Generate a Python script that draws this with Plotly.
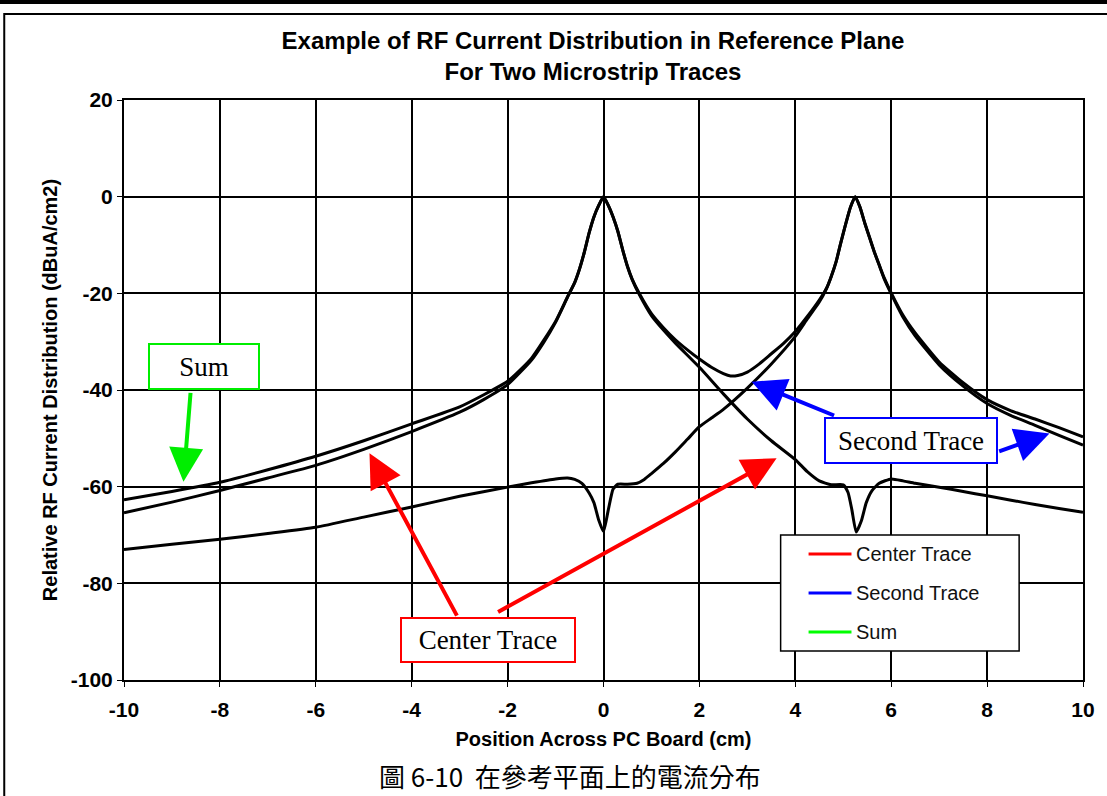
"""RF current distribution in the reference plane for two microstrip traces."""

import plotly.graph_objects as go

# --- data ----------------------------------------------------------------
CENTER_X = [-10, -9, -8, -7, -6, -5, -4, -3, -2.5, -2, -1.5, -1.25, -1, -0.75,
            -0.6, -0.5, -0.4, -0.3, -0.2, -0.1, 0, 0.1, 0.2, 0.3, 0.4, 0.5, 0.6,
            0.75, 1, 1.25, 1.5, 2, 2.5, 3, 3.5, 4, 4.25, 4.5, 4.75, 5, 5.1,
            5.18, 5.27, 5.38, 5.48, 5.6, 5.75, 6, 6.25, 6.5, 7, 7.5, 8, 8.5, 9,
            9.5, 10]
CENTER_DB = [-65.4, -63.2, -60.8, -58.2, -55.6, -52.3, -48.6, -44.6, -42.0,
             -38.9, -33.8, -30.2, -26.0, -20.8, -17.8, -15.0, -11.5, -7.5, -4.2,
             -1.8, 0, -1.8, -4.2, -7.2, -11.0, -14.5, -17.2, -20.3, -24.6,
             -27.6, -30.3, -35.3, -40.8, -46.0, -50.5, -54.4, -56.9, -58.8,
             -59.6, -59.6, -61.2, -64.8, -69.4, -67.0, -63.3, -60.8, -59.3,
             -58.4, -58.8, -59.3, -60.1, -61.0, -61.9, -62.8, -63.7, -64.5,
             -65.3]

SECOND_X = [-10, -9, -8, -7, -6, -5, -4, -3, -2, -1.5, -1, -0.75, -0.6, -0.45,
            -0.3, -0.2, -0.1, 0, 0.1, 0.2, 0.3, 0.5, 0.7, 0.85, 1, 1.25, 1.5,
            1.75, 2, 2.25, 2.5, 3, 3.5, 4, 4.25, 4.5, 4.65, 4.75, 4.85, 4.95,
            5.05, 5.15, 5.25, 5.35, 5.45, 5.55, 5.65, 5.75, 5.85, 6, 6.25, 6.5,
            7, 7.5, 8, 8.5, 9, 9.5, 10]
SECOND_DB = [-73.0, -71.9, -70.9, -69.7, -68.4, -66.3, -64.2, -62.0, -60.1,
             -59.2, -58.4, -58.2, -58.5, -59.3, -61.3, -63.3, -66.9, -69.3,
             -64.8, -60.5, -59.5, -59.5, -59.3, -58.5, -57.3, -55.2, -52.8,
             -50.2, -47.6, -45.8, -44.0, -39.6, -34.6, -28.9, -25.3, -21.8,
             -19.0, -16.5, -13.5, -9.5, -5.7, -2.2, 0, -2.2, -5.5, -8.5, -11.5,
             -14.2, -16.9, -20.1, -25.0, -28.8, -34.8, -39.2, -42.8, -45.3,
             -47.3, -49.4, -51.4]

SUM_X = [-10, -9, -8, -7, -6, -5, -4, -3, -2, -1.5, -1, -0.75, -0.6, -0.5,
         -0.4, -0.3, -0.2, -0.1, 0, 0.1, 0.2, 0.3, 0.4, 0.5, 0.6, 0.75, 1, 1.25,
         1.5, 1.75, 2, 2.25, 2.5, 2.65, 2.8, 3, 3.25, 3.5, 3.75, 4, 4.25, 4.5,
         4.65, 4.75, 4.85, 4.95, 5.05, 5.15, 5.25, 5.35, 5.45, 5.55, 5.65,
         5.75, 5.85, 6, 6.25, 6.5, 7, 7.5, 8, 8.5, 9, 9.5, 10]
SUM_DB = [-62.7, -61.0, -59.1, -56.5, -53.7, -50.5, -47.0, -43.5, -38.2,
          -33.4, -25.8, -20.7, -17.7, -14.9, -11.5, -7.5, -4.2, -1.8, 0, -1.8,
          -4.2, -7.2, -11.0, -14.4, -17.1, -20.1, -24.2, -27.1, -29.6, -31.7,
          -33.6, -35.3, -36.6, -37.1, -37.0, -36.3, -34.6, -32.5, -30.4, -27.9,
          -24.8, -21.4, -19.0, -16.5, -13.5, -9.5, -5.7, -2.2, 0, -2.2, -5.5,
          -8.5, -11.5, -14.1, -16.7, -19.9, -24.6, -28.2, -34.2, -38.5, -42.0,
          -44.3, -46.0, -47.8, -49.7]

SERIES = ["Center Trace", "Second Trace", "Sum"]
SERIES_COLORS = ["#ff0000", "#0000ff", "#00ff00"]

X_TICKS = [-10, -8, -6, -4, -2, 0, 2, 4, 6, 8, 10]
X_LABELS = ["-10", "-8", "-6", "-4", "-2", "0", "2", "4", "6", "8", "10"]
Y_TICKS = [-100, -80, -60, -40, -20, 0, 20]
Y_LABELS = ["-100", "-80", "-60", "-40", "-20", "0", "20"]

# --- page geometry (pixels) ----------------------------------------------
W, H = 1107, 796
PLOT_L, PLOT_R, PLOT_T, PLOT_B = 124, 1085, 100, 680
SANS = "Liberation Sans, Arial, sans-serif"
SERIF = "Liberation Serif, Times New Roman, serif"


def px(x):
    """Pixel x -> paper x."""
    return (x - PLOT_L) / (PLOT_R - PLOT_L)


def py(y):
    """Pixel y -> paper y."""
    return (PLOT_B - y) / (PLOT_B - PLOT_T)


fig = go.Figure()

for xs, ys, name in [(CENTER_X, CENTER_DB, SERIES[0]),
                     (SECOND_X, SECOND_DB, SERIES[1]),
                     (SUM_X, SUM_DB, SERIES[2])]:
    fig.add_trace(go.Scatter(
        x=xs, y=ys, name=name, mode="lines",
        line=dict(color="black", width=3, shape="spline", smoothing=0.5),
        showlegend=False,
    ))

shapes = []
annotations = []

# page frame from the scanned book page
shapes.append(dict(type="line", xref="paper", yref="paper",
                   x0=px(-5), x1=px(W + 5), y0=py(2), y1=py(2),
                   line=dict(color="black", width=4)))
shapes.append(dict(type="rect", xref="paper", yref="paper",
                   x0=px(4), x1=px(W + 10), y0=py(14), y1=py(H + 10),
                   line=dict(color="black", width=2)))

# hand-drawn legend box
shapes.append(dict(type="rect", xref="paper", yref="paper",
                   x0=px(782), x1=px(1021), y0=py(535), y1=py(651),
                   fillcolor="white", line=dict(color="black", width=1.5)))
for i, (name, color) in enumerate(zip(SERIES, SERIES_COLORS)):
    ly = 554 + i * 39
    shapes.append(dict(type="line", xref="paper", yref="paper",
                       x0=px(810), x1=px(853), y0=py(ly), y1=py(ly),
                       line=dict(color=color, width=3)))
    annotations.append(dict(text=name, xref="paper", yref="paper",
                            x=px(856), y=py(ly), xanchor="left",
                            yanchor="middle", showarrow=False,
                            font=dict(family=SANS, size=20, color="#111111")))

# callout boxes
callouts = [
    ("Sum", "#00ee00", 204, 366, 112, 47),
    ("Second Trace", "#0000ff", 913, 440, 174, 47),
    ("Center Trace", "#ff0000", 489, 640, 176, 46),
]
for text, color, cx, cy, bw, bh in callouts:
    annotations.append(dict(text=text, xref="paper", yref="paper",
                            x=px(cx), y=py(cy), xanchor="center",
                            yanchor="middle", showarrow=False,
                            width=bw - 4, height=bh - 4, borderpad=0,
                            bordercolor=color, borderwidth=2, bgcolor="white",
                            font=dict(family=SERIF, size=27, color="black")))

# callout arrows (tail -> head, in data units)
arrows = [
    ("#00ee00", -8.61, -40.3, -8.76, -59.0),
    ("#ff0000", -3.04, -87.0, -4.88, -53.1),
    ("#ff0000", -2.23, -86.1, 3.61, -54.1),
    ("#0000ff", 4.84, -45.4, 3.09, -38.3),
    ("#0000ff", 8.22, -52.8, 9.30, -49.0),
]
for color, tx, ty, hx, hy in arrows:
    annotations.append(dict(text="", x=hx, y=hy, ax=tx, ay=ty,
                            xref="x", yref="y", axref="x", ayref="y",
                            showarrow=True, arrowhead=2, arrowsize=1.7,
                            arrowwidth=4, arrowcolor=color))

# figure caption
annotations.append(dict(text="圖 6-10  在參考平面上的電流分布",
                        xref="paper", yref="paper", x=px(571), y=py(775),
                        xanchor="center", yanchor="middle", showarrow=False,
                        font=dict(family="Noto Sans CJK TC", size=26,
                                  color="black")))

axis_common = dict(
    showgrid=True, gridcolor="black", gridwidth=1.5,
    showline=True, linecolor="black", linewidth=2, mirror=True,
    ticks="outside", ticklen=5, tickcolor="black",
    zeroline=False,
    tickfont=dict(family=SANS, size=21, color="black", weight="bold"),
)

fig.update_layout(
    width=W, height=H,
    margin=dict(l=PLOT_L, r=W - PLOT_R, t=PLOT_T, b=H - PLOT_B),
    paper_bgcolor="white", plot_bgcolor="white",
    title=dict(
        text="Example of RF Current Distribution in Reference Plane"
             "<br>For Two Microstrip Traces",
        x=593 / W, xanchor="center", y=1 - 49 / H, yanchor="middle",
        font=dict(family=SANS, size=24, color="black", weight="bold"),
    ),
    xaxis=dict(range=[-10, 10], tickvals=X_TICKS, ticktext=X_LABELS,
               ticklabelstandoff=5,
               title=dict(text="Position Across PC Board (cm)", standoff=12,
                          font=dict(family=SANS, size=20, color="black",
                                    weight="bold")),
               **axis_common),
    yaxis=dict(range=[-100, 20], tickvals=Y_TICKS, ticktext=Y_LABELS,
               title=dict(text="Relative RF Current Distribution (dBuA/cm2)",
                          standoff=8,
                          font=dict(family=SANS, size=20, color="black",
                                    weight="bold")),
               **axis_common),
    shapes=shapes,
    annotations=annotations,
)

# the page body has an 8px default margin; drop it so pixels line up
fig.write_html("out.html", config={"displayModeBar": False},
               post_script="document.body.style.margin = '0';")
